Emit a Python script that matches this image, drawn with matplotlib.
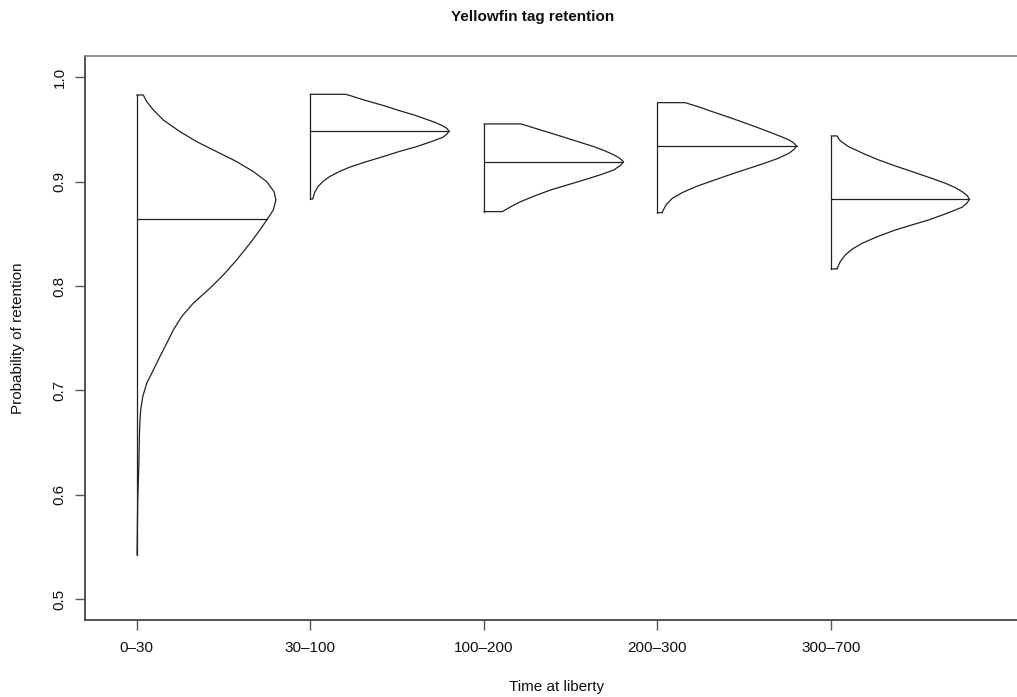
import numpy as np
import matplotlib
matplotlib.use("Agg")
import matplotlib.pyplot as plt

plt.rcParams['font.family'] = ['Liberation Sans', 'DejaVu Sans']

categories = ["0\u201330", "30\u2013100", "100\u2013200", "200\u2013300", "300\u2013700"]

# Half-violin outlines: value (top -> bottom) and half-width
vals_0_30 = [0.9830, 0.9830, 0.9766, 0.9687, 0.9591, 0.9479, 0.9383, 0.9287, 0.9192,
             0.9096, 0.9000, 0.8904, 0.8825, 0.8729, 0.8640, 0.8537, 0.8410, 0.8250,
             0.8106, 0.7979, 0.7835, 0.7707, 0.7579, 0.7452, 0.7324, 0.7196, 0.7069,
             0.6941, 0.6813, 0.6717, 0.6590, 0.6430, 0.6270, 0.6110, 0.5951, 0.5700,
             0.5424]
wid_0_30 = [0.000, 0.038, 0.058, 0.096, 0.153, 0.249, 0.346, 0.461, 0.576,
            0.672, 0.749, 0.791, 0.802, 0.787, 0.752, 0.710, 0.653, 0.576,
            0.499, 0.422, 0.326, 0.259, 0.211, 0.173, 0.134, 0.096, 0.058,
            0.035, 0.023, 0.019, 0.016, 0.014, 0.012, 0.009, 0.006, 0.004,
            0.002]

vals_30_100 = [0.9837, 0.9837, 0.9822, 0.9800, 0.9776, 0.9730, 0.9680, 0.9640, 0.9598,
               0.9565, 0.9534, 0.9510, 0.9486, 0.9460, 0.9425, 0.9385, 0.9335, 0.9290,
               0.9239, 0.9190, 0.9138, 0.9095, 0.9048, 0.9000, 0.8952, 0.8900, 0.8841,
               0.8834, 0.8834]
wid_30_100 = [0.000, 0.203, 0.235, 0.275, 0.323, 0.420, 0.514, 0.595, 0.668,
              0.722, 0.764, 0.787, 0.798, 0.790, 0.764, 0.700, 0.611, 0.515,
              0.418, 0.320, 0.226, 0.165, 0.111, 0.072, 0.044, 0.026, 0.015,
              0.015, 0.000]

vals_100_200 = [0.9553, 0.9553, 0.9525, 0.9495, 0.9455, 0.9416, 0.9375, 0.9335, 0.9295,
                0.9256, 0.9225, 0.9192, 0.9160, 0.9112, 0.9065, 0.9016, 0.8968, 0.8920,
                0.8865, 0.8808, 0.8760, 0.8713, 0.8713]
wid_100_200 = [0.000, 0.215, 0.268, 0.327, 0.405, 0.480, 0.558, 0.634, 0.697,
               0.749, 0.782, 0.803, 0.790, 0.749, 0.670, 0.576, 0.480, 0.384,
               0.295, 0.211, 0.155, 0.106, 0.000]

vals_200_300 = [0.9757, 0.9757, 0.9715, 0.9670, 0.9615, 0.9559, 0.9510, 0.9464, 0.9430,
                0.9399, 0.9370, 0.9342, 0.9310, 0.9272, 0.9220, 0.9170, 0.9117, 0.9064,
                0.9008, 0.8952, 0.8897, 0.8841, 0.8780, 0.8713, 0.8703, 0.8703]
wid_200_300 = [0.000, 0.159, 0.240, 0.317, 0.415, 0.509, 0.590, 0.662, 0.715,
               0.758, 0.785, 0.801, 0.787, 0.758, 0.690, 0.605, 0.508, 0.412,
               0.315, 0.221, 0.145, 0.086, 0.050, 0.029, 0.029, 0.000]

vals_300_700 = [0.9438, 0.9438, 0.9415, 0.9390, 0.9365, 0.9335, 0.9270, 0.9208, 0.9150,
                0.9096, 0.9040, 0.8985, 0.8945, 0.8904, 0.8868, 0.8831, 0.8795, 0.8755,
                0.8695, 0.8633, 0.8585, 0.8537, 0.8475, 0.8410, 0.8355, 0.8298, 0.8235,
                0.8170, 0.8164, 0.8164]
wid_300_700 = [0.000, 0.035, 0.042, 0.054, 0.075, 0.101, 0.185, 0.274, 0.370,
               0.467, 0.565, 0.658, 0.712, 0.755, 0.783, 0.797, 0.783, 0.755,
               0.665, 0.562, 0.465, 0.370, 0.270, 0.179, 0.123, 0.082, 0.053,
               0.035, 0.035, 0.000]

medians = [0.8640, 0.9486, 0.9192, 0.9342, 0.8831]
y_ticks = [0.5, 0.6, 0.7, 0.8, 0.9, 1.0]
y_tick_labels = ["0.5", "0.6", "0.7", "0.8", "0.9", "1.0"]

shapes = [(vals_0_30, wid_0_30), (vals_30_100, wid_30_100), (vals_100_200, wid_100_200),
          (vals_200_300, wid_200_300), (vals_300_700, wid_300_700)]

W, H = 1017, 697
fig = plt.figure(figsize=(W / 100, H / 100), dpi=100)
ax = fig.add_axes([85 / W, 1 - 620 / H, (1029 - 85) / W, (620 - 56.4) / H])
ax.set_xlim(0.7022, 6.140)
ax.set_ylim(0.48, 1.02)

lc = '#222222'
for i, (v, w) in enumerate(shapes):
    pos = i + 1
    v = np.asarray(v)
    w = np.asarray(w)
    ax.plot(pos + w, v, color=lc, lw=0.9, solid_joinstyle='round', solid_capstyle='round')
    ax.plot([pos, pos], [v.min(), v.max()], color=lc, lw=0.9)
    # median line extends to the lower side of the outline at that value
    k = int(np.argmax(w))
    lower_v = v[k:][::-1]
    lower_w = w[k:][::-1]
    mw = np.interp(medians[i], lower_v, lower_w)
    ax.plot([pos, pos + mw], [medians[i], medians[i]], color=lc, lw=0.9)

ax.set_xticks(range(1, len(categories) + 1))
ax.set_xticklabels(categories)
ax.set_yticks(y_ticks)
ax.set_yticklabels(y_tick_labels, rotation=90, va='center')

for s in ['left', 'bottom']:
    ax.spines[s].set_color('#444444')
    ax.spines[s].set_linewidth(1.3)
ax.spines['top'].set_color('#888888')
ax.spines['top'].set_linewidth(1.3)
ax.spines['right'].set_visible(False)

ax.tick_params(axis='both', direction='out', length=7.2, width=1.0, color='#555555',
               labelsize=11, labelcolor='#111111')
ax.tick_params(axis='y', pad=6)
ax.tick_params(axis='x', pad=8)

fig.text(533 / W, 1 - 17 / H, "Yellowfin tag retention", ha='center', va='center',
         fontsize=11, fontweight='bold', color='#111111')
fig.text(557 / W, 1 - 687 / H, "Time at liberty", ha='center', va='center',
         fontsize=11, color='#111111')
fig.text(18 / W, 1 - 338 / H, "Probability of retention", ha='center', va='center',
         rotation=90, fontsize=11, color='#111111')

fig.savefig("out.png", dpi=100)
